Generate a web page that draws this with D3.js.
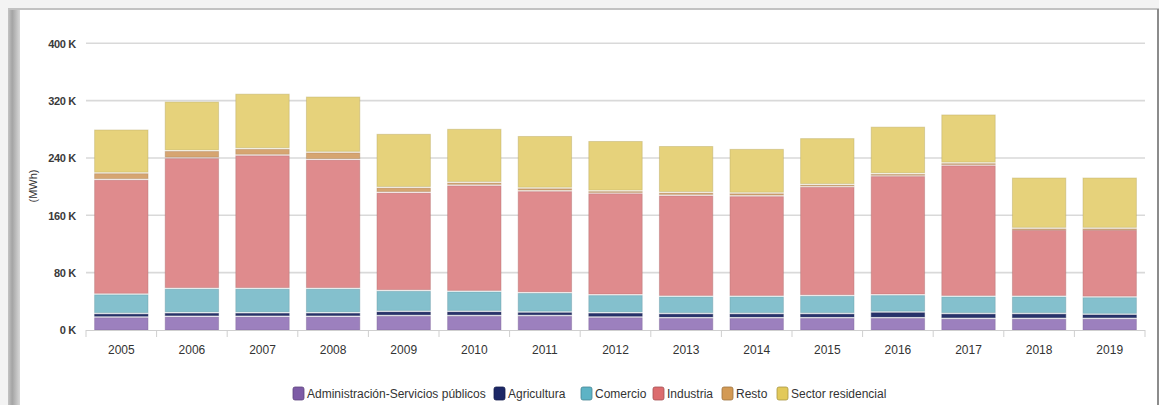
<!DOCTYPE html>
<html>
<head>
<meta charset="utf-8">
<script src="https://cdn.jsdelivr.net/npm/d3@7"></script>
<style>
  html, body { margin: 0; padding: 0; background: #ffffff; }
  svg { display: block; font-family: "Liberation Sans", Arial, sans-serif; }
</style>
</head>
<body>
<svg id="chart" width="1159" height="405"></svg>
<script>
// ---- data (MWh) ----
const years = ["2005","2006","2007","2008","2009","2010","2011","2012","2013","2014","2015","2016","2017","2018","2019"];
const seriesNames = ["Administración-Servicios públicos","Agricultura","Comercio","Industria","Resto","Sector residencial"];
const administracion = [17000,18000,18000,18000,19000,19000,19000,17000,16000,16000,16000,16000,15000,15000,15000];
const agricultura    = [5000,5000,5000,5000,6000,6000,5000,6000,6000,6000,6000,8000,7000,7000,6000];
const comercio       = [27000,34000,34000,34000,29000,28000,27000,25000,24000,24000,25000,24000,24000,24000,24000];
const industria      = [160000,182000,186000,180000,137000,148000,142000,142000,141000,140000,152000,166000,183000,93000,94000];
const resto          = [9000,10000,9000,10000,7000,4000,4000,3000,4000,4000,3000,3000,3000,2000,2000];
const residencial    = [61000,69000,77000,78000,75000,75000,73000,70000,65000,62000,65000,66000,68000,71000,71000];
const yTicks = [0, 80000, 160000, 240000, 320000, 400000];
const yTickLabels = ["0 K","80 K","160 K","240 K","320 K","400 K"];
const yTitle = "(MWh)";

const barColors    = ["#9c80be","#27326b","#84c0cd","#df8b8d","#d6a571","#e6d27b"];
const legendColors = ["#7d5ba6","#1c2766","#5db3c5","#dc6c6e","#d39a55","#e2c95a"];

const seriesValues = [administracion, agricultura, comercio, industria, resto, residencial];
const table = years.map((y, i) => {
  const row = { year: y };
  seriesNames.forEach((s, k) => row[s] = seriesValues[k][i]);
  return row;
});

const svg = d3.select("#chart");
const W = 1159, H = 405;

// ---- frame ----
svg.append("rect").attr("x",0).attr("y",0).attr("width",W).attr("height",H).attr("fill","#f3f3f3");
const grad = svg.append("defs").append("linearGradient").attr("id","lg").attr("x1","0").attr("x2","1");
grad.append("stop").attr("offset","0").attr("stop-color","#c4c4c4");
grad.append("stop").attr("offset","0.35").attr("stop-color","#a4a4a4");
grad.append("stop").attr("offset","1").attr("stop-color","#d8d8d8");
svg.append("rect").attr("x",8).attr("y",9).attr("width",12).attr("height",H-9).attr("fill","url(#lg)");
svg.append("rect").attr("x",8).attr("y",8).attr("width",W-8).attr("height",2).attr("fill","#c2c2c2");
svg.append("rect").attr("x",20).attr("y",10).attr("width",1137).attr("height",H-10).attr("fill","#ffffff");
svg.append("rect").attr("x",1157).attr("y",9).attr("width",2).attr("height",H-9).attr("fill","#8c8c8c");

// ---- scales ----
const x = d3.scaleBand().domain(years).range([86, 1145]).paddingInner(0.23).paddingOuter(0.115);
const y = d3.scaleLinear().domain([0, 400000]).range([330, 43.3]);

// grid
svg.append("g").selectAll("line").data(yTicks.filter(d => d > 0)).join("line")
  .attr("x1", 86).attr("x2", 1145)
  .attr("y1", d => y(d)).attr("y2", d => y(d))
  .attr("stroke", "#d9d9d9").attr("stroke-width", 1.6);

// y axis labels
const yAxis = d3.axisLeft(y).tickValues(yTicks).tickFormat((d, i) => yTickLabels[i]).tickSize(0).tickPadding(0);
const ya = svg.append("g").attr("transform", "translate(76,0)").call(yAxis);
ya.select(".domain").remove();
ya.selectAll("text").attr("font-size", 11).attr("font-weight", "bold").attr("fill", "#3a3a3a")
  .attr("font-family", "'Liberation Sans', Arial, sans-serif").attr("dy", "0.35em").attr("letter-spacing", "-0.3");

svg.append("text").attr("transform", "translate(37,186) rotate(-90)")
  .attr("text-anchor", "middle").attr("font-size", 11).attr("fill", "#333").text(yTitle);

// ---- stacked bars ----
const stack = d3.stack().keys(seriesNames)(table);
const gap = 1.6;
const layers = svg.append("g").selectAll("g").data(stack).join("g");
layers.each(function(layer, k) {
  d3.select(this).selectAll("rect").data(layer).join("rect")
    .attr("x", d => x(d.data.year) + 0.5)
    .attr("width", x.bandwidth() - 1)
    .attr("y", d => y(d[1]))
    .attr("height", d => Math.max(0.8, y(d[0]) - y(d[1]) - (k === 0 ? 0 : gap)))
    .attr("fill", barColors[k])
    .attr("stroke", d3.color(barColors[k]).darker(0.6))
    .attr("stroke-opacity", 0.45)
    .attr("stroke-width", 1);
});

// x axis
const xAxis = d3.axisBottom(x).tickSize(0).tickPadding(0);
const xa = svg.append("g").attr("transform", "translate(0,330)").call(xAxis);
xa.select(".domain").attr("stroke", "#cfcfcf").attr("d", "M86,0.5H1145");
xa.selectAll("text").attr("font-size", 12).attr("fill", "#333").attr("y", 24)
  .attr("font-family", "'Liberation Sans', Arial, sans-serif").attr("dy", "0");
const boundaries = years.map(yr => x(yr) - x.step() * x.paddingInner() / 2);
boundaries.push(x(years[years.length - 1]) + x.bandwidth() + x.step() * x.paddingInner() / 2);
svg.append("g").selectAll("line").data(boundaries).join("line")
  .attr("x1", d => d).attr("x2", d => d).attr("y1", 330).attr("y2", 337)
  .attr("stroke", "#cfcfcf").attr("stroke-width", 1);

// ---- legend ----
const legendX = [293, 494, 581, 653, 722, 777];
const lg = svg.append("g");
seriesNames.forEach((s, k) => {
  lg.append("rect").attr("x", legendX[k]).attr("y", 387).attr("width", 11).attr("height", 13)
    .attr("rx", 2).attr("fill", legendColors[k]).attr("stroke", d3.color(legendColors[k]).darker(0.8)).attr("stroke-width", 0.8);
  lg.append("text").attr("x", legendX[k] + 14).attr("y", 397.5).attr("font-size", 12).attr("fill", "#333").text(s);
});
</script>
</body>
</html>
